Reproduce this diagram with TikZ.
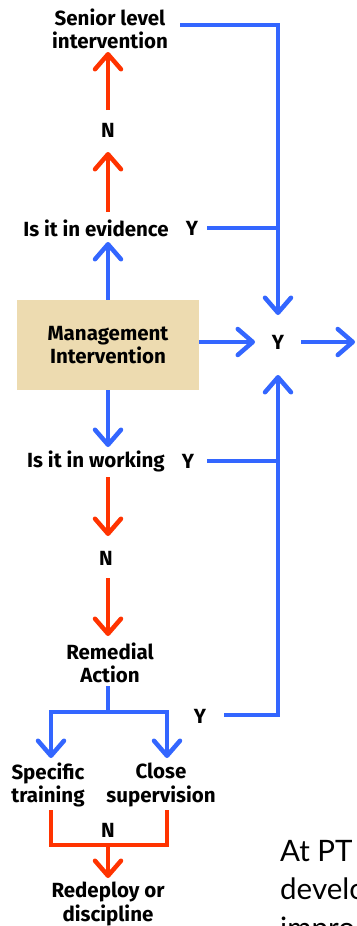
\documentclass[tikz,border=0pt]{standalone}
\usepackage{fontspec}
\setmainfont{Fira Sans}
\newfontfamily\bodyfont{Lato}
\usetikzlibrary{arrows.meta}
\definecolor{fblue}{HTML}{3366FF}
\definecolor{fred}{HTML}{FF3300}
\definecolor{ftan}{HTML}{EDDBB0}
\begin{document}
\begin{tikzpicture}[x=1pt,y=-1pt,
  lbl/.style={font=\bfseries\fontsize{20.5}{23.5}\selectfont, align=center, inner sep=0pt},
  bl/.style={draw=fblue, line width=4.5pt},
  rl/.style={draw=fred, line width=4.5pt},
  barb/.tip={Straight Barb[length=15pt,width=26pt,line cap=round,line join=round]},
  tip/.style={-barb}]
\useasboundingbox (0,0) rectangle (356,926);
\clip (0,0) rectangle (356,926);
% nodes
\node[lbl] (sen) at (110,29) {Senior level\\intervention};
\node[lbl] (n1) at (108,130) {N};
\node[lbl] (evi) at (96,228) {Is it in evidence};
\node[lbl] (ye) at (192,228) {Y};
\node[lbl, fill=ftan, minimum width=182pt, minimum height=90pt] (mg) at (108,345) {Management\\Intervention};
\node[lbl] (yc) at (278,342) {Y};
\node[lbl] (wor) at (96,461) {Is it in working};
\node[lbl] (yw) at (188,461) {Y};
\node[lbl] (n2) at (106,558) {N};
\node[lbl] (rem) at (110,663) {Remedial\\Action};
\node[lbl] (yr) at (200,716) {Y};
\node[lbl] (spe) at (48,785) {Specific\\training};
\node[lbl] (clo) at (161,785) {Close\\supervision};
\node[lbl] (n3) at (108,830) {N};
\node[lbl] (rd) at (108,904) {Redeploy or\\discipline};
\node[anchor=north west, align=left, inner sep=0pt, font=\bodyfont\fontsize{29.5}{38.5}\selectfont] (at) at (280,840) {At PT\\develo\\impro};
% coordinates
\coordinate (a1) at (108,212);
\coordinate (a2) at (108,152);
\coordinate (a3) at (108,110);
\coordinate (a4) at (108,52);
\coordinate (b1) at (108,242);
\coordinate (c1) at (199,342);
\coordinate (c2) at (255,342);
\coordinate (c3) at (301,342);
\coordinate (c4) at (355,342);
\coordinate (s1) at (180,25);
\coordinate (s2) at (278,25);
\coordinate (s3) at (278,315);
\coordinate (e1) at (207,228);
\coordinate (e2) at (278,228);
\coordinate (w0) at (108,447);
\coordinate (w1) at (207,461);
\coordinate (w2) at (278,461);
\coordinate (r1) at (224,715);
\coordinate (r2) at (278,715);
\coordinate (r3) at (278,375);
\coordinate (d1) at (108,477);
\coordinate (d2) at (108,536);
\coordinate (d3) at (108,578);
\coordinate (d4) at (108,636);
\coordinate (f0) at (108,686);
\coordinate (f1) at (108,712);
\coordinate (fl) at (51,712);
\coordinate (fr) at (167,712);
\coordinate (fl2) at (51,758);
\coordinate (fr2) at (167,758);
\coordinate (g1) at (51,810);
\coordinate (g2) at (51,845);
\coordinate (g3) at (167,845);
\coordinate (g4) at (167,810);
\coordinate (g5) at (108,845);
\coordinate (g6) at (108,878);
% connectors
\draw[rl,tip] (a1) -- (a2);
\draw[rl,tip] (a3) -- (a4);
\draw[bl,tip] (mg.north) -- (b1);
\draw[bl,tip] (c1) -- (c2);
\draw[bl,tip] (c3) -- (c4);
\draw[bl,tip] (s1) -- (s2) -- (s3);
\draw[bl] (e1) -- (e2);
\draw[bl,tip] (mg.south) -- (w0);
\draw[bl] (w1) -- (w2);
\draw[bl,tip] (r1) -- (r2) -- (r3);
\draw[rl,tip] (d1) -- (d2);
\draw[rl,tip] (d3) -- (d4);
\draw[bl] (f0) -- (f1);
\draw[bl,barb-barb] (fl2) -- (fl) -- (fr) -- (fr2);
\draw[rl] (g1) -- (g2) -- (g3) -- (g4);
\draw[rl,tip] (g5) -- (g6);
\end{tikzpicture}
\end{document}
